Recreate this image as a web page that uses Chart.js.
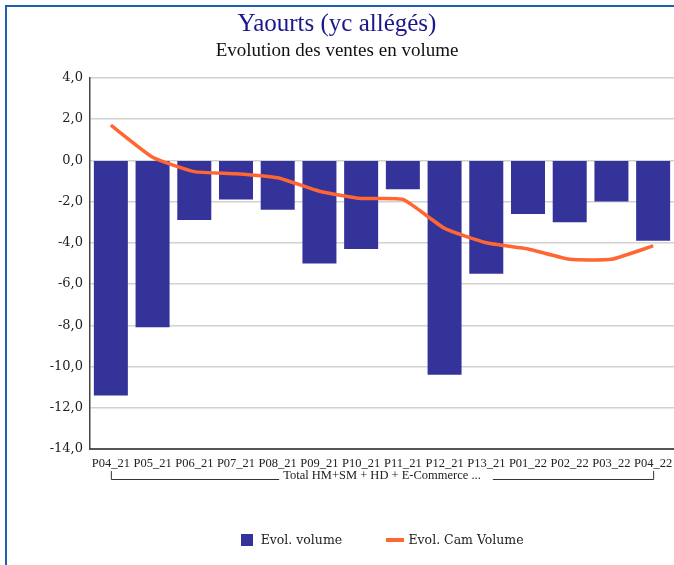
<!DOCTYPE html>
<html>
<head>
<meta charset="utf-8">
<script src="https://cdn.jsdelivr.net/npm/chart.js@4.4.1/dist/chart.umd.min.js"></script>
<style>
  html, body { margin: 0; padding: 0; background: #fff; overflow: hidden; }
  #frame { position: absolute; left: 5px; top: 5px; width: 720px; height: 620px;
           border-left: 2px solid #1f5fb0; border-top: 2px solid #1f5fb0; }
  #wrap { position: absolute; left: 0; top: 0; width: 674px; height: 565px; }
</style>
</head>
<body>
<div id="frame"></div>
<div id="wrap"><canvas id="chart"></canvas></div>
<script>
// data
const periods = ['P04_21', 'P05_21', 'P06_21', 'P07_21', 'P08_21', 'P09_21', 'P10_21',
                 'P11_21', 'P12_21', 'P13_21', 'P01_22', 'P02_22', 'P03_22', 'P04_22'];
const evolVolume = [-11.4, -8.1, -2.9, -1.9, -2.4, -5.0, -4.3, -1.4, -10.4, -5.5, -2.6, -3.0, -2.0, -3.9];
const evolCamVolume = [1.7, 0.15, -0.55, -0.65, -0.85, -1.5, -1.85, -1.9, -3.3, -4.0, -4.3, -4.8, -4.8, -4.15];
const yTicks = [-14, -12, -10, -8, -6, -4, -2, 0, 2, 4];
const groupLabel = 'Total HM+SM + HD + E-Commerce ...';

const barColor = '#333399';
const lineColor = '#ff6633';

Chart.defaults.font.family = "'DejaVu Serif', serif";
Chart.defaults.color = '#222';

function swatch(w, h, color) {
    const c = document.createElement('canvas');
    c.width = w;
    c.height = h;
    const g = c.getContext('2d');
    g.fillStyle = color;
    g.fillRect(0, 0, w, h);
    return c;
}
const legendIcons = [swatch(12, 12, barColor), swatch(18, 4, lineColor)];

// bracket under the category labels, grouping all periods
const groupBracket = {
    id: 'groupBracket',
    afterDraw(chart) {
        const xs = chart.scales.x;
        const ctx = chart.ctx;
        const x0 = xs.getPixelForValue(0);
        const x1 = xs.getPixelForValue(periods.length - 1);
        const cx = (x0 + x1) / 2;
        const yLine = xs.top + 30;
        const yTop = xs.top + 22;
        ctx.save();
        ctx.font = "12.5px 'Liberation Serif', serif";
        ctx.fillStyle = '#222';
        ctx.textAlign = 'center';
        ctx.textBaseline = 'middle';
        const tw = ctx.measureText(groupLabel).width;
        ctx.fillText(groupLabel, cx, yLine - 3);
        ctx.strokeStyle = '#333';
        ctx.lineWidth = 1;
        ctx.beginPath();
        ctx.moveTo(x0 + 0.5, yTop);
        ctx.lineTo(x0 + 0.5, yLine + 0.5);
        ctx.lineTo(cx - tw / 2 - 4, yLine + 0.5);
        ctx.moveTo(cx + tw / 2 + 12, yLine + 0.5);
        ctx.lineTo(x1 + 0.5, yLine + 0.5);
        ctx.lineTo(x1 + 0.5, yTop);
        ctx.stroke();
        ctx.restore();
    }
};

// centre the legend under the plot area rather than the whole canvas
const legendUnderPlot = {
    id: 'legendUnderPlot',
    afterLayout(chart) {
        const lg = chart.legend;
        if (!lg) return;
        const shift = (chart.chartArea.left + chart.chartArea.right) / 2 - (lg.left + lg.right) / 2;
        lg.left += shift;
        lg.right += shift;
    }
};

new Chart(document.getElementById('chart').getContext('2d'), {
    type: 'bar',
    data: {
        labels: periods,
        datasets: [{
            type: 'bar',
            label: 'Evol. volume',
            data: evolVolume,
            backgroundColor: barColor,
            barPercentage: 0.815,
            categoryPercentage: 1,
            order: 2
        }, {
            type: 'line',
            label: 'Evol. Cam Volume',
            data: evolCamVolume,
            borderColor: lineColor,
            backgroundColor: lineColor,
            borderWidth: 3.5,
            pointRadius: 0,
            tension: 0.15,
            order: 1
        }]
    },
    options: {
        responsive: true,
        maintainAspectRatio: false,
        animation: false,
        layout: { padding: { bottom: 8.5 } },
        plugins: {
            tooltip: { enabled: false },
            title: {
                display: true,
                text: 'Yaourts (yc allégés)',
                color: '#18188c',
                font: { family: "'Liberation Serif', serif", size: 25, weight: 'normal' },
                padding: { top: 9, bottom: 1 }
            },
            subtitle: {
                display: true,
                text: 'Evolution des ventes en volume',
                color: '#111',
                font: { family: "'Liberation Serif', serif", size: 19, weight: 'normal' },
                padding: { top: 0, bottom: 15 }
            },
            legend: {
                position: 'bottom',
                labels: {
                    font: { size: 12.5 },
                    color: '#222',
                    padding: 46,
                    usePointStyle: true,
                    pointStyleWidth: 14,
                    generateLabels: chart => chart.data.datasets.map((ds, i) => ({
                        text: ds.label,
                        datasetIndex: i,
                        pointStyle: legendIcons[i],
                        fillStyle: ds.backgroundColor,
                        strokeStyle: 'transparent',
                        lineWidth: 0,
                        fontColor: '#222',
                        hidden: false
                    }))
                }
            }
        },
        scales: {
            x: {
                grid: { display: false, drawTicks: false },
                border: { color: '#555', width: 2 },
                ticks: {
                    padding: 7,
                    autoSkip: false,
                    maxRotation: 0,
                    color: '#222',
                    font: { family: "'Liberation Serif', serif", size: 12.5 }
                },
                afterFit: s => {
                    s.height = 39;
                    s.paddingLeft = 0;
                    s.paddingRight = 0;
                }
            },
            y: {
                min: yTicks[0],
                max: yTicks[yTicks.length - 1],
                afterBuildTicks: s => { s.ticks = yTicks.map(v => ({ value: v })); },
                afterFit: s => { s.width = 90; },
                grid: { color: '#d2d2d2', lineWidth: 1.5, drawTicks: false },
                border: { color: '#444', width: 1.5 },
                ticks: {
                    padding: 7,
                    color: '#222',
                    font: { size: 13 },
                    callback: v => v.toFixed(1).replace('.', ',')
                }
            }
        }
    },
    plugins: [groupBracket, legendUnderPlot]
});
</script>
</body>
</html>
